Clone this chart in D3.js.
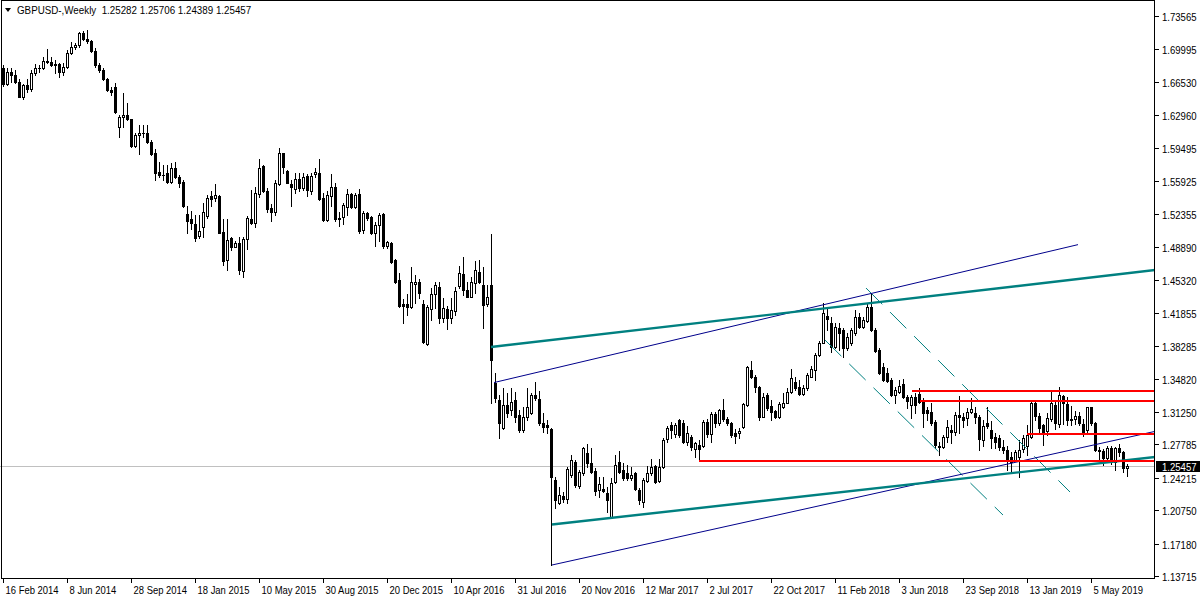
<!DOCTYPE html>
<html><head><meta charset="utf-8">
<script src="https://cdn.jsdelivr.net/npm/d3@7"></script>
<style>
body{margin:0;background:#fff}
svg{display:block}
text{font-family:"Liberation Sans",Arial,sans-serif;font-size:11px;fill:#000}
</style>
</head><body><svg id="c" width="1200" height="600"></svg>
<script>
// ---------- data (GBPUSD weekly, 16 Feb 2014 .. 7 Jul 2019) ----------
const openP = [
1.6800,1.6630,1.6761,1.6726,1.6654,1.6494,1.6620,1.6572,1.6743,1.6797,
1.6804,1.6879,1.6868,1.6832,1.6840,1.6761,1.6815,1.6957,1.7028,1.7050,
1.7178,1.7107,1.7085,1.6986,1.6832,1.6779,1.6679,1.6565,1.6601,1.6173,
1.6280,1.6298,1.6252,1.5967,1.6084,1.6102,1.6109,1.6013,1.5888,1.5692,
1.5657,1.5675,1.5586,1.5728,1.5632,1.5586,1.5240,1.5183,1.5130,1.5005,
1.5098,1.5219,1.5433,1.5408,1.5433,1.5044,1.4749,1.4980,1.4891,1.4927,
1.4631,1.4970,1.5183,1.5148,1.5450,1.5753,1.5486,1.5301,1.5265,1.5557,
1.5889,1.5703,1.5561,1.5504,1.5611,1.5515,1.5646,1.5490,1.5664,1.5682,
1.5408,1.5176,1.5436,1.5525,1.5194,1.5205,1.5319,1.5454,1.5312,1.5454,
1.5069,1.5247,1.5205,1.5041,1.5123,1.5240,1.4902,1.4927,1.4749,1.4530,
1.4278,1.4278,1.4250,1.4492,1.4517,1.4280,1.3851,1.4221,1.4385,1.4464,
1.4125,1.4221,1.4125,1.4207,1.4471,1.4599,1.4428,1.4357,1.4506,1.4624,
1.4481,1.4278,1.4481,1.3431,1.3252,1.2950,1.3199,1.3146,1.3252,1.3092,
1.2932,1.3067,1.3117,1.3306,1.3260,1.3010,1.2985,1.2939,1.2398,1.2155,
1.2227,1.2191,1.2451,1.2593,1.2333,1.2469,1.2683,1.2576,1.2494,1.2291,
1.2298,1.2255,1.2006,1.2380,1.2586,1.2504,1.2469,1.2415,1.2476,1.2291,
1.2166,1.2390,1.2469,1.2551,1.2390,1.2533,1.2832,1.2985,1.2889,1.3039,
1.3003,1.2807,1.2861,1.2725,1.2772,1.2761,1.3021,1.2889,1.3103,1.3003,
1.3146,1.3046,1.3010,1.2900,1.2900,1.2968,1.3199,1.3573,1.3495,1.3388,
1.3075,1.3306,1.3188,1.3135,1.3075,1.3174,1.3224,1.3342,1.3448,1.3395,
1.3317,1.3377,1.3502,1.3573,1.3733,1.3865,1.4150,1.4072,1.3823,1.4018,
1.4001,1.3805,1.3865,1.3965,1.4143,1.4029,1.4100,1.4250,1.4001,1.3787,
1.3602,1.3538,1.3466,1.3306,1.3342,1.3424,1.3288,1.3199,1.3288,1.3317,
1.3245,1.3146,1.3128,1.3021,1.2754,1.2754,1.2861,1.2932,1.2914,1.3092,
1.3074,1.3056,1.3128,1.3110,1.3074,1.2825,1.3010,1.2932,1.2861,1.2843,
1.2754,1.2718,1.2640,1.2611,1.2647,1.2725,1.2761,1.2861,1.3217,1.3085,
1.2990,1.2920,1.3050,1.3200,1.3000,1.3290,1.3210,1.3040,1.3050,1.3080,
1.3000,1.2930,1.3175,1.3005,1.2720,1.2710,1.2630,1.2737,1.2590,1.2740,
1.2695,1.25282];
const highP = [
1.6832,1.6797,1.6797,1.6779,1.6679,1.6630,1.6680,1.6779,1.6843,1.6830,
1.6921,1.7000,1.6921,1.6886,1.6857,1.6857,1.6993,1.7082,1.7071,1.7189,
1.7199,1.7206,1.7100,1.7010,1.6850,1.6797,1.6690,1.6601,1.6644,1.6298,
1.6530,1.6423,1.6260,1.6102,1.6191,1.6191,1.6191,1.6031,1.5931,1.5799,
1.5764,1.5764,1.5782,1.5799,1.5657,1.5600,1.5326,1.5276,1.5230,1.5230,
1.5354,1.5443,1.5486,1.5561,1.5443,1.5183,1.5183,1.4998,1.4955,1.4998,
1.4998,1.5219,1.5497,1.5525,1.5825,1.5764,1.5515,1.5347,1.5604,1.5942,
1.5896,1.5711,1.5604,1.5682,1.5682,1.5675,1.5668,1.5675,1.5728,1.5825,
1.5461,1.5486,1.5664,1.5575,1.5265,1.5354,1.5504,1.5468,1.5468,1.5504,
1.5272,1.5265,1.5219,1.5158,1.5247,1.5247,1.4952,1.4945,1.4756,1.4606,
1.4330,1.4390,1.4677,1.4588,1.4542,1.4321,1.4268,1.4446,1.4517,1.4517,
1.4339,1.4257,1.4339,1.4464,1.4684,1.4777,1.4517,1.4570,1.4741,1.4749,
1.4677,1.4481,1.5026,1.3537,1.3306,1.3377,1.3331,1.3377,1.3341,1.3146,
1.3181,1.3377,1.3324,1.3448,1.3352,1.3110,1.3039,1.2950,1.2433,1.2326,
1.2273,1.2540,1.2665,1.2611,1.2505,1.2747,1.2782,1.2736,1.2522,1.2433,
1.2433,1.2326,1.2415,1.2665,1.2711,1.2576,1.2558,1.2540,1.2487,1.2309,
1.2415,1.2547,1.2618,1.2558,1.2618,1.2843,1.2975,1.3021,1.3003,1.3046,
1.3039,1.2975,1.2878,1.2807,1.2825,1.3039,1.3046,1.3128,1.3128,1.3160,
1.3268,1.3074,1.3021,1.2939,1.2950,1.3224,1.3616,1.3673,1.3520,1.3402,
1.3324,1.3324,1.3253,1.3146,1.3235,1.3324,1.3377,1.3580,1.3502,1.3466,
1.3413,1.3538,1.3616,1.3751,1.3887,1.4286,1.4243,1.4136,1.4079,1.4079,
1.4018,1.3965,1.4018,1.4214,1.4179,1.4143,1.4293,1.4393,1.4018,1.3805,
1.3644,1.3591,1.3484,1.3388,1.3466,1.3473,1.3306,1.3306,1.3324,1.3377,
1.3270,1.3181,1.3217,1.3039,1.2807,1.2878,1.3039,1.2985,1.3128,1.3300,
1.3110,1.3163,1.3270,1.3181,1.3092,1.3039,1.3180,1.3030,1.2900,1.2878,
1.2830,1.2760,1.2700,1.2720,1.2825,1.2880,1.2980,1.3250,1.3240,1.3110,
1.2999,1.3110,1.3350,1.3245,1.3394,1.3306,1.3280,1.3190,1.3140,1.3127,
1.3050,1.3180,1.3180,1.3020,1.2750,1.2730,1.2765,1.2760,1.2750,1.2785,
1.2710,1.25706];
const lowP = [
1.6608,1.6619,1.6654,1.6636,1.6487,1.6469,1.6545,1.6550,1.6730,1.6760,
1.6790,1.6850,1.6822,1.6743,1.6708,1.6726,1.6800,1.6950,1.7000,1.7030,
1.7100,1.7064,1.6975,1.6815,1.6761,1.6672,1.6558,1.6512,1.6323,1.6059,
1.6173,1.6245,1.5960,1.5960,1.5881,1.6066,1.6002,1.5871,1.5603,1.5639,
1.5603,1.5568,1.5568,1.5621,1.5532,1.5319,1.5041,1.5076,1.4955,1.4980,
1.4991,1.5194,1.5326,1.5383,1.5034,1.4695,1.4642,1.4856,1.4884,1.4599,
1.4571,1.4863,1.5130,1.5098,1.5426,1.5479,1.5265,1.5169,1.5230,1.5550,
1.5675,1.5568,1.5326,1.5461,1.5490,1.5497,1.5433,1.5454,1.5639,1.5390,
1.5169,1.5169,1.5326,1.5169,1.5112,1.5133,1.5230,1.5301,1.5301,1.5034,
1.5041,1.5176,1.5027,1.4898,1.4955,1.4873,1.4873,1.4720,1.4506,1.4250,
1.4079,1.4161,1.4232,1.4285,1.4339,1.3858,1.3840,1.4107,1.4232,1.4072,
1.4090,1.4008,1.4072,1.4161,1.4446,1.4374,1.4350,1.4350,1.4392,1.4499,
1.4018,1.4257,1.3224,1.3235,1.2843,1.2940,1.3074,1.3092,1.3021,1.2914,
1.2914,1.3039,1.3100,1.3252,1.2985,1.2914,1.2900,1.1491,1.2095,1.2141,
1.2166,1.2148,1.2433,1.2326,1.2309,1.2451,1.2540,1.2469,1.2237,1.2219,
1.2273,1.2059,1.1988,1.2369,1.2469,1.2398,1.2398,1.2398,1.2291,1.2141,
1.2113,1.2380,1.2451,1.2369,1.2380,1.2522,1.2807,1.2843,1.2854,1.2854,
1.2789,1.2772,1.2718,1.2640,1.2611,1.2754,1.2861,1.2807,1.2968,1.2985,
1.3030,1.2985,1.2861,1.2790,1.2850,1.2950,1.3188,1.3484,1.3342,1.3039,
1.3067,1.3146,1.3039,1.3057,1.3057,1.3164,1.3217,1.3324,1.3360,1.3306,
1.3306,1.3360,1.3495,1.3466,1.3723,1.3858,1.4001,1.3769,1.3805,1.3787,
1.3716,1.3787,1.3840,1.3947,1.4018,1.4018,1.4090,1.3994,1.3769,1.3531,
1.3459,1.3448,1.3295,1.3217,1.3324,1.3270,1.3164,1.3057,1.3110,1.3217,
1.2968,1.3039,1.2985,1.2736,1.2665,1.2736,1.2807,1.2790,1.2878,1.2896,
1.2967,1.2990,1.3110,1.3003,1.2718,1.2760,1.2950,1.2740,1.2740,1.2720,
1.2690,1.2500,1.2475,1.2600,1.2433,1.2700,1.2670,1.2850,1.3040,1.2900,
1.2775,1.2880,1.3030,1.2945,1.2960,1.3000,1.2980,1.2980,1.3000,1.2990,
1.2865,1.2900,1.2980,1.2710,1.2605,1.2560,1.2600,1.2570,1.2506,1.2650,
1.2480,1.24389];
const closeP = [
1.6630,1.6761,1.6726,1.6654,1.6494,1.6620,1.6572,1.6743,1.6797,1.6804,
1.6879,1.6868,1.6832,1.6840,1.6761,1.6815,1.6957,1.7028,1.7050,1.7178,
1.7107,1.7085,1.6986,1.6832,1.6779,1.6679,1.6565,1.6547,1.6334,1.6280,
1.6298,1.6252,1.5967,1.6084,1.6102,1.6109,1.6013,1.5881,1.5675,1.5657,
1.5660,1.5586,1.5728,1.5632,1.5568,1.5326,1.5169,1.5148,1.4987,1.5059,
1.5265,1.5408,1.5404,1.5443,1.5041,1.4742,1.4962,1.4884,1.4927,1.4642,
1.4970,1.5194,1.5148,1.5461,1.5728,1.5490,1.5294,1.5265,1.5568,1.5889,
1.5746,1.5575,1.5525,1.5611,1.5515,1.5632,1.5497,1.5646,1.5693,1.5397,
1.5176,1.5443,1.5532,1.5183,1.5190,1.5336,1.5450,1.5319,1.5443,1.5062,
1.5247,1.5194,1.5041,1.5123,1.5230,1.4898,1.4938,1.4731,1.4517,1.4257,
1.4257,1.4243,1.4517,1.4517,1.4399,1.3876,1.4243,1.4385,1.4481,1.4125,
1.4232,1.4125,1.4214,1.4421,1.4613,1.4428,1.4357,1.4517,1.4642,1.4517,
1.4268,1.4357,1.3680,1.3270,1.3003,1.3199,1.3110,1.3235,1.3074,1.2932,
1.3074,1.3180,1.3306,1.3270,1.3003,1.2967,1.2967,1.2433,1.2184,1.2237,
1.2191,1.2512,1.2611,1.2344,1.2480,1.2736,1.2576,1.2487,1.2284,1.2355,
1.2280,1.2184,1.2369,1.2558,1.2487,1.2415,1.2415,1.2451,1.2298,1.2184,
1.2398,1.2469,1.2540,1.2380,1.2533,1.2825,1.2950,1.2932,1.2985,1.2878,
1.2807,1.2896,1.2747,1.2789,1.2725,1.3021,1.2889,1.3103,1.3003,1.3146,
1.3054,1.3003,1.2879,1.2868,1.2925,1.3210,1.3602,1.3502,1.3395,1.3075,
1.3288,1.3164,1.3128,1.3075,1.3206,1.3224,1.3342,1.3484,1.3377,1.3317,
1.3377,1.3520,1.3580,1.3733,1.3858,1.4179,1.4115,1.3823,1.4036,1.3965,
1.3805,1.3929,1.4001,1.4143,1.4036,1.4108,1.4250,1.4001,1.3780,1.3538,
1.3466,1.3459,1.3306,1.3359,1.3402,1.3281,1.3245,1.3288,1.3199,1.3235,
1.3117,1.3117,1.3003,1.2771,1.2761,1.2861,1.2967,1.2914,1.3092,1.3074,
1.3039,1.3128,1.3153,1.3067,1.2832,1.2974,1.2974,1.2843,1.2807,1.2747,
1.2718,1.2611,1.2593,1.2700,1.2718,1.2843,1.2878,1.3217,1.3085,1.2953,
1.2900,1.3060,1.3220,1.3007,1.3306,1.3217,1.3039,1.3046,1.3081,1.3003,
1.2914,1.3181,1.3005,1.2720,1.2710,1.2630,1.2737,1.2590,1.2740,1.2695,
1.2525,1.25457];

const dateLabels = ["16 Feb 2014","8 Jun 2014","28 Sep 2014","18 Jan 2015","10 May 2015","30 Aug 2015",
  "20 Dec 2015","10 Apr 2016","31 Jul 2016","20 Nov 2016","12 Mar 2017","2 Jul 2017","22 Oct 2017",
  "11 Feb 2018","3 Jun 2018","23 Sep 2018","13 Jan 2019","5 May 2019"];
const dateLabelBars = [0,16,32,48,64,80,96,112,128,144,160,176,192,208,224,240,256,272];
const priceTicks = ["1.73565","1.69995","1.66530","1.62960","1.59495","1.55925","1.52355","1.48890",
  "1.45320","1.41855","1.38285","1.34820","1.31250","1.27785","1.24215","1.20750","1.17180","1.13715"];
const headerText = "GBPUSD-,Weekly  1.25282 1.25706 1.24389 1.25457";
const lastPrice = 1.25457;

// trend objects: [barIndex1, price1, barIndex2, price2]
const tealLines = [[122, 1.3819, 290, 1.4651], [137.25, 1.1922, 290, 1.2652]];
const blueLines = [[122.75, 1.3439, 268.75, 1.4913], [137.25, 1.1489, 290, 1.2936]];
const dashLines = [[215.75, 1.4449, 266.75, 1.2269], [205.5, 1.3893, 250, 1.2023]];
const redLevels = [[174, 1.2602], [227.25, 1.3352], [229.25, 1.3245], [256, 1.2886]];

// ---------- layout ----------
const plotRight = 1155, plotBottom = 578;
const svg = d3.select("#c");
const x = d3.scaleLinear().domain([0, 281]).range([3, 1127]);
const y = d3.scaleLinear().domain([1.13715, 1.73565]).range([576, 16]);

function label(g, px, py, str, sx, fill){
  return g.append("text")
    .attr("transform", `translate(${px},${py}) scale(${sx},1)`)
    .style("fill", fill || "#000").text(str);
}

svg.append("defs").append("clipPath").attr("id","clip")
  .append("rect").attr("x",0).attr("y",0).attr("width",plotRight).attr("height",plotBottom);

const plot = svg.append("g").attr("clip-path","url(#clip)");

// current price line
plot.append("line").attr("x1",0).attr("x2",plotRight)
  .attr("y1",Math.round(y(lastPrice))+0.5).attr("y2",Math.round(y(lastPrice))+0.5)
  .attr("stroke","#c0c0c0").attr("stroke-width",1).attr("shape-rendering","crispEdges");

// candles
const cg = plot.append("g").attr("shape-rendering","crispEdges");
openP.forEach((o,i)=>{
  const c = closeP[i], h = highP[i], l = lowP[i];
  const cx = Math.round(x(i));
  const yh = Math.round(y(h)), yl = Math.round(y(l));
  const top = Math.round(y(Math.max(o,c))), bot = Math.round(y(Math.min(o,c)));
  cg.append("rect").attr("x",cx).attr("y",yh).attr("width",1).attr("height",Math.max(1,yl-yh+1)).attr("fill","#000");
  cg.append("rect").attr("x",cx-1).attr("y",top).attr("width",3).attr("height",Math.max(1,bot-top+1)).attr("fill","#000");
  if (c > o && bot-top >= 2) {
    cg.append("rect").attr("x",cx).attr("y",top+1).attr("width",1).attr("height",bot-top-1).attr("fill","#fff");
  }
});

function drawSegs(data, stroke, width, dash){
  plot.append("g").selectAll("line").data(data).join("line")
    .attr("x1",d=>x(d[0])).attr("y1",d=>y(d[1]))
    .attr("x2",d=>x(d[2])).attr("y2",d=>y(d[3]))
    .attr("stroke",stroke).attr("stroke-width",width)
    .attr("stroke-dasharray",dash||null).attr("fill","none");
}
drawSegs(dashLines, "#008080", 1, "23,11");
drawSegs(blueLines, "#00008b", 1);
drawSegs(tealLines, "#008080", 2.4);
plot.append("g").attr("shape-rendering","crispEdges").selectAll("line").data(redLevels).join("line")
  .attr("x1",d=>x(d[0])).attr("x2",plotRight)
  .attr("y1",d=>Math.round(y(d[1]))).attr("y2",d=>Math.round(y(d[1])))
  .attr("stroke","#ff0000").attr("stroke-width",2);

// frame and axes
const ax = svg.append("g").attr("shape-rendering","crispEdges");
ax.append("line").attr("x1",1.5).attr("x2",1.5).attr("y1",0).attr("y2",plotBottom).attr("stroke","#000");
ax.append("line").attr("x1",1).attr("x2",plotRight).attr("y1",0.5).attr("y2",0.5).attr("stroke","#000");
ax.append("line").attr("x1",plotRight-0.5).attr("x2",plotRight-0.5).attr("y1",0).attr("y2",plotBottom+0.5).attr("stroke","#000");
ax.append("line").attr("x1",1).attr("x2",plotRight).attr("y1",plotBottom+0.5).attr("y2",plotBottom+0.5).attr("stroke","#000");

const tg = svg.append("g");
priceTicks.forEach(t=>{
  const yy = Math.round(y(+t))+0.5;
  ax.append("line").attr("x1",plotRight).attr("x2",plotRight+4).attr("y1",yy).attr("y2",yy).attr("stroke","#000");
  label(tg, plotRight+7, yy+4, t, 0.87);
});
dateLabels.forEach((t,k)=>{
  const xx = Math.round(x(dateLabelBars[k]))+0.5;
  ax.append("line").attr("x1",xx).attr("x2",xx).attr("y1",plotBottom).attr("y2",plotBottom+5).attr("stroke","#000");
  label(tg, xx+2, 594, t, 0.86);
});

// current price box
const yp = Math.round(y(lastPrice));
svg.append("rect").attr("x",plotRight+1).attr("y",yp-5).attr("width",45).attr("height",11).attr("fill","#000");
label(svg, plotRight+7, yp+4.5, lastPrice.toFixed(5), 0.87, "#fff");

// header
svg.append("path").attr("d","M5,8 L11,8 L8,12 Z").attr("fill","#000");
label(svg, 17, 14, headerText, 0.89).attr("xml:space","preserve").style("white-space","pre");
</script>
</body></html>
